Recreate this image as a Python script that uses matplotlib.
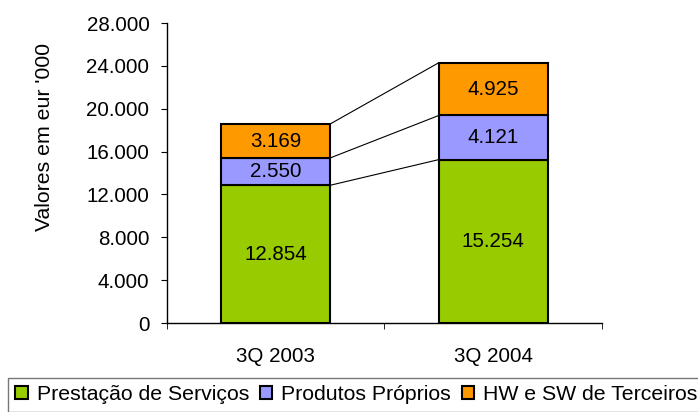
import numpy as np
import matplotlib.pyplot as plt

plt.rcParams['font.family'] = ['Liberation Sans', 'DejaVu Sans']

# data
quarters = ['3Q 2003', '3Q 2004']
servicos = [12854, 15254]
produtos = [2550, 4121]
terceiros = [3169, 4925]
series_names = ['Prestação de Serviços', 'Produtos Próprios', 'HW e SW de Terceiros']
colors = ['#99CC00', '#9999FF', '#FF9900']
yticks = [0, 4000, 8000, 12000, 16000, 20000, 24000, 28000]
ytick_labels = ['0', '4.000', '8.000', '12.000', '16.000', '20.000', '24.000', '28.000']

FS = 14.8
FS_LEG = 15.3

def fmt(v):
    return f'{v:,}'.replace(',', '.')

fig = plt.figure(figsize=(6.98, 4.12), dpi=100)
ax = fig.add_axes([0.239, 0.216, 0.6235, 0.728])

x = np.arange(len(quarters))
w = 0.5
bottoms = np.zeros(len(quarters))
tops = []
bars = []
for vals, name, col in zip([servicos, produtos, terceiros], series_names, colors):
    b = ax.bar(x, vals, w, bottom=bottoms, color=col, edgecolor='black',
               linewidth=1.5, label=name, zorder=3)
    bars.append(b)
    for xi, v, bt in zip(x, vals, bottoms):
        ax.text(xi, bt + v / 2, fmt(v), ha='center', va='center', fontsize=FS, zorder=4)
    bottoms = bottoms + np.array(vals)
    tops.append(bottoms.copy())

# series lines between bars
for t in tops:
    ax.plot([x[0] + w / 2, x[1] - w / 2], [t[0], t[1]], color='black', lw=0.8, zorder=2)

ax.set_xlim(-0.5, 1.5)
ax.set_ylim(0, 28000)
ax.set_yticks(yticks)
ax.set_yticklabels(ytick_labels, fontsize=FS)
ax.set_xticks(x)
ax.set_xticklabels(quarters, fontsize=FS)
ax.set_xticks([-0.5, 0.5, 1.5], minor=True)
ax.tick_params(axis='x', which='major', length=0, pad=17)
ax.tick_params(axis='x', which='minor', length=4, direction='out')
ax.tick_params(axis='y', length=4, direction='out', pad=8.5)
for s in ['top', 'right']:
    ax.spines[s].set_visible(False)
ax.spines['left'].set_linewidth(1.0)
ax.spines['bottom'].set_linewidth(1.0)

ax.set_ylabel("Valores em eur '000", fontsize=FS_LEG)
ax.yaxis.set_label_coords(-0.26, 0.62)

leg = fig.legend(handles=bars, labels=series_names, loc='upper left',
                 bbox_to_anchor=(8 / 698, 1 - 378 / 412), ncol=3, fontsize=FS_LEG,
                 frameon=True, fancybox=False, handlelength=0.57, handleheight=0.57,
                 handletextpad=0.43, columnspacing=0.52, borderpad=0.35,
                 borderaxespad=0)
leg.get_frame().set_edgecolor('#555555')
leg.get_frame().set_linewidth(1.0)

fig.savefig('out.png', dpi=100)
